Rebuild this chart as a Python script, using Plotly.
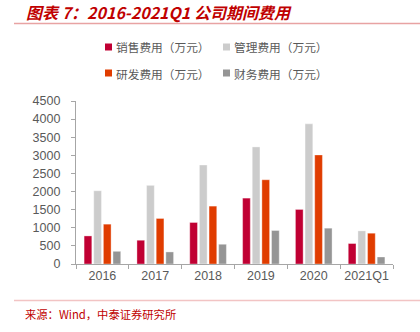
import plotly.graph_objects as go

categories = ["2016", "2017", "2018", "2019", "2020", "2021Q1"]
series_names = ["销售费用（万元）", "管理费用（万元）", "研发费用（万元）", "财务费用（万元）"]
sales = [775, 656, 1146, 1819, 1506, 565]
admin = [2022, 2171, 2733, 3232, 3869, 914]
rnd = [1100, 1257, 1598, 2326, 3011, 850]
finance = [350, 333, 545, 925, 989, 194]
colors = ["#C00033", "#CCCCCC", "#E03C00", "#959595"]
y_ticks = [0, 500, 1000, 1500, 2000, 2500, 3000, 3500, 4000, 4500]

fig = go.Figure()
for name, vals, col in zip(series_names, [sales, admin, rnd, finance], colors):
    fig.add_trace(go.Bar(x=categories, y=vals, name=name, marker_color=col,
                         marker_line_width=0.6, marker_line_color="rgba(255,255,255,0.6)",
                         showlegend=False))

W, H = 420, 332
ml, mr, mt, mb = 76, 27, 101, 68
plot_w = W - ml - mr
plot_h = H - mt - mb

fig.update_layout(
    width=W, height=H,
    margin=dict(l=ml, r=mr, t=mt, b=mb),
    paper_bgcolor="white", plot_bgcolor="white",
    barmode="group", bargap=0.27, bargroupgap=0.2,
    font=dict(family="Liberation Sans, Arial", color="#595959"),
    xaxis=dict(showline=True, linecolor="#A6A6A6", linewidth=1.3, tickangle=0,
               ticks="outside", tickson="boundaries", ticklen=4, tickcolor="#A6A6A6",
               tickfont=dict(size=12.5, color="#595959"), showgrid=False),
    yaxis=dict(range=[0, 4500], tickvals=y_ticks, showline=True, linecolor="#A6A6A6",
               linewidth=1.3, ticks="outside", ticklen=4, tickcolor="#A6A6A6",
               tickfont=dict(size=12.5, color="#595959"), showgrid=False,
               zeroline=False, ticklabelstandoff=8),
)


def to_paper_x(xp):
    return (xp - ml) / plot_w


def to_paper_y(yp):
    return (H - mb - yp) / plot_h


fig.add_annotation(xref="paper", yref="paper", x=to_paper_x(24), y=to_paper_y(12),
                   xanchor="left", yanchor="middle", showarrow=False,
                   text="<b><i>图表 7：2016-2021Q1 公司期间费用</i></b>",
                   font=dict(family="Noto Sans CJK SC", size=16, color="#C00000"))
fig.add_shape(type="line", xref="paper", yref="paper",
              x0=to_paper_x(14), x1=to_paper_x(420), y0=to_paper_y(23.5), y1=to_paper_y(23.5),
              line=dict(color="#E8A3A3", width=1.3))
fig.add_shape(type="line", xref="paper", yref="paper",
              x0=to_paper_x(14), x1=to_paper_x(420), y0=to_paper_y(300.5), y1=to_paper_y(300.5),
              line=dict(color="#F2C4C4", width=1.5))
fig.add_annotation(xref="paper", yref="paper", x=to_paper_x(23), y=to_paper_y(314),
                   xanchor="left", yanchor="middle", showarrow=False,
                   text="来源：Wind，中泰证券研究所",
                   font=dict(family="Noto Sans CJK SC", size=11.3, color="#C00000"))

# Manual legend
legend_pos = [(105, 47), (223, 47), (105, 73), (223, 73)]
for (lx, ly), name, col in zip(legend_pos, series_names, colors):
    fig.add_shape(type="rect", xref="paper", yref="paper",
                  x0=to_paper_x(lx), x1=to_paper_x(lx + 7),
                  y0=to_paper_y(ly + 3.5), y1=to_paper_y(ly - 3.5),
                  fillcolor=col, line=dict(width=0))
    fig.add_annotation(xref="paper", yref="paper", x=to_paper_x(lx + 9), y=to_paper_y(ly),
                       xanchor="left", yanchor="middle", showarrow=False,
                       text=name,
                       font=dict(family="Noto Sans CJK SC", size=11.7, color="#595959"))

fig.write_html("out.html")
